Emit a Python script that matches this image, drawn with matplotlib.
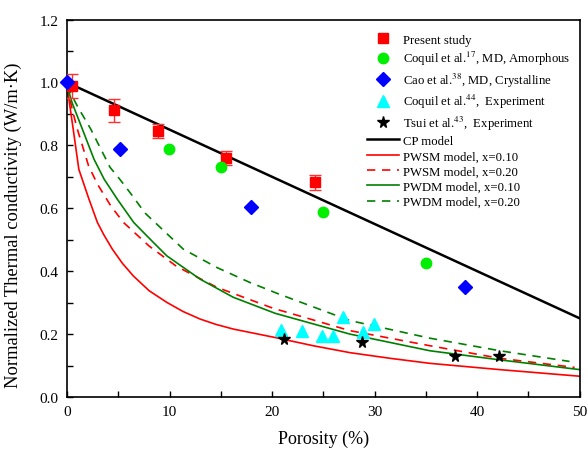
import matplotlib
matplotlib.use("Agg")
import matplotlib.pyplot as plt

plt.rcParams['font.family'] = ['Liberation Serif', 'DejaVu Serif']
plt.rcParams['mathtext.fontset'] = 'stix'

# measured data (porosity %, normalized conductivity)
present_x = [0.5, 4.6, 8.9, 15.5, 24.2]
present_y = [0.99, 0.912, 0.845, 0.759, 0.682]
present_err = [0.038, 0.037, 0.022, 0.022, 0.024]

coquil_md_x = [9.9, 15.0, 25.0, 35.0]
coquil_md_y = [0.788, 0.732, 0.588, 0.427]

cao_x = [0.0, 5.2, 17.9, 38.8]
cao_y = [1.0, 0.789, 0.605, 0.350]

coquil_exp_x = [20.9, 22.9, 24.9, 25.9, 26.9, 28.9, 29.95]
coquil_exp_y = [0.214, 0.211, 0.193, 0.195, 0.255, 0.206, 0.231]

tsui_x = [21.2, 28.8, 37.8, 42.1]
tsui_y = [0.184, 0.174, 0.129, 0.129]

# model curves
cp_x = [0, 50]
cp_y = [1.0, 0.25]

pwsm10_x = [0, 0.3, 0.6, 1.15, 2.14, 2.96, 3.6, 4.42, 5.4, 6.46, 8.0, 9.72, 11.3, 12.96, 14.5, 16.21, 20.3, 24.0, 27.58, 31.5, 35.38, 42.2, 50]
pwsm10_y = [0.99, 0.92, 0.852, 0.724, 0.629, 0.555, 0.515, 0.470, 0.425, 0.385, 0.338, 0.301, 0.272, 0.248, 0.231, 0.216, 0.189, 0.163, 0.141, 0.123, 0.107, 0.087, 0.066]

pwsm20_x = [0, 0.5, 1.0, 2.1, 2.96, 4.26, 5.5, 8.0, 10.69, 14.59, 20.1, 27.58, 35.38, 42.2, 49.5]
pwsm20_y = [0.99, 0.915, 0.852, 0.735, 0.677, 0.608, 0.555, 0.480, 0.415, 0.349, 0.282, 0.211, 0.163, 0.123, 0.094]

pwdm10_x = [0, 0.5, 1.49, 2.63, 3.61, 4.9, 6.5, 8.31, 9.72, 12.96, 16.21, 20.3, 27.58, 35.38, 42.2, 50]
pwdm10_y = [0.99, 0.935, 0.852, 0.756, 0.693, 0.629, 0.555, 0.495, 0.449, 0.375, 0.317, 0.266, 0.200, 0.147, 0.118, 0.087]

pwdm20_x = [0, 1.0, 2.31, 4.2, 5.2, 6.37, 7.6, 11.34, 14.59, 17.84, 20.6, 27.58, 35.38, 42.2, 49]
pwdm20_y = [0.99, 0.925, 0.852, 0.73, 0.69, 0.640, 0.585, 0.470, 0.412, 0.364, 0.328, 0.243, 0.187, 0.147, 0.113]

fig = plt.figure(figsize=(5.88, 4.52), dpi=100)
ax = fig.add_axes([0.114, 0.1195, 0.872, 0.835])

h1, = ax.plot(present_x, present_y, 's', color='#ff0000', ms=6.5, zorder=5, label='Present study')
ax.errorbar(present_x, present_y, yerr=present_err, fmt='none', ecolor='#ff3030',
            elinewidth=1, capsize=4, capthick=1, zorder=4)
h2, = ax.plot(coquil_md_x, coquil_md_y, 'o', color='#00ee00', ms=7.5, zorder=5,
              label=r'Coquil et al.$^{17}$, MD, Amorphous')
h3, = ax.plot(cao_x, cao_y, 'D', color='#0000ff', ms=7, zorder=5,
              label=r'Cao et al.$^{38}$, MD, Crystalline', clip_on=False)
h4, = ax.plot(coquil_exp_x, coquil_exp_y, '^', color='#00ffff', ms=8.5, zorder=5,
              label=r'Coquil et al.$^{44}$,  Experiment')
h5, = ax.plot(tsui_x, tsui_y, '*', color='black', ms=8.5, zorder=6,
              label=r'Tsui et al.$^{43}$,  Experiment')

h6, = ax.plot(cp_x, cp_y, '-', color='black', lw=1.8, label='CP model')
h7, = ax.plot(pwsm10_x, pwsm10_y, '-', color='#ff0000', lw=1.2, label='PWSM model, x=0.10')
h8, = ax.plot(pwsm20_x, pwsm20_y, '--', color='#ff0000', lw=1.2, dashes=(5, 4),
              label='PWSM model, x=0.20')
h9, = ax.plot(pwdm10_x, pwdm10_y, '-', color='#008000', lw=1.2, label='PWDM model, x=0.10')
h10, = ax.plot(pwdm20_x, pwdm20_y, '--', color='#008000', lw=1.2, dashes=(5, 4),
               label='PWDM model, x=0.20')

ax.set_xlim(0, 50)
ax.set_ylim(0, 1.2)
ax.set_xticks([0, 10, 20, 30, 40, 50])
ax.set_xticks(range(5, 50, 10), minor=True)
ax.set_yticks([0.0, 0.2, 0.4, 0.6, 0.8, 1.0, 1.2])
ax.set_yticks([0.1, 0.3, 0.5, 0.7, 0.9, 1.1], minor=True)
ax.set_yticklabels(['0.0', '0.2', '0.4', '0.6', '0.8', '1.0', '1.2'])
ax.tick_params(which='both', direction='in', labelsize=11, top=False, right=False, width=1)
ax.tick_params(which='major', length=4.5, pad=6)
ax.tick_params(which='minor', length=4)
for s in ax.spines.values():
    s.set_linewidth(1.2)

ax.set_xlabel('Porosity (%)', fontsize=13, labelpad=8)
ax.set_ylabel('Normalized Thermal conductivity (W/m·K)', fontsize=13.3)
ax.yaxis.set_label_coords(-0.087, 0.458)

ax.legend(handles=[h1, h2, h3, h4, h5, h6, h7, h8, h9, h10], loc='upper left',
          bbox_to_anchor=(0.585, 0.962), frameon=False, fontsize=9.2,
          borderpad=0, borderaxespad=0, handlelength=2.5, handletextpad=0.3,
          labelspacing=0.26)

fig.savefig('out.png', dpi=100)
